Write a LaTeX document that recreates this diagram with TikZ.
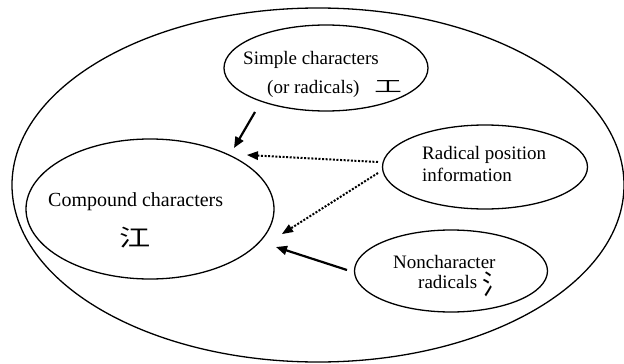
\documentclass[tikz,border=0pt]{standalone}
\usepackage{fontspec}
\usepackage{graphicx}
\setmainfont{Liberation Serif}
\newfontfamily\cjk{Noto Sans CJK SC}
\usetikzlibrary{shapes.geometric,arrows.meta}
\tikzset{
  ell/.style={draw=black, line width=1.3pt, ellipse, inner sep=0pt},
  lbl/.style={inner sep=0pt, anchor=base west, font=\fontsize{19}{22}\selectfont},
  cjkc/.style={inner sep=0pt, anchor=center},
  solidarrow/.style={line width=2.2pt, -{Triangle[length=11pt,width=9pt]}},
  dotarrow/.style={line width=2pt, dash pattern=on 2pt off 1.6pt, -{Triangle[length=11pt,width=9pt,line width=0pt]}}
}
\begin{document}
\begin{tikzpicture}[x=1pt,y=-1pt]
\useasboundingbox[fill=white] (0,0) rectangle (624,364);
% ellipses
\node[ell, minimum width=612pt, minimum height=354pt] (outer) at (318,185) {};
\node[ell, minimum width=204pt, minimum height=86pt] (simple) at (326,68) {};
\node[ell, minimum width=248pt, minimum height=140pt] (compound) at (150,209) {};
\node[ell, minimum width=205pt, minimum height=84pt] (radical) at (485,167) {};
\node[ell, minimum width=193pt, minimum height=82pt] (nonchar) at (451,271) {};
% texts
\node[lbl] (s1) at (243,64) {Simple characters};
\node[lbl] (s2) at (267,93) {(or radicals)};
\node[cjkc] (s3) at (388,87) {\scalebox{1.25}[0.75]{\fontsize{22}{22}\cjk 工}};
\node[lbl, font=\fontsize{20}{22}\selectfont] (c1) at (48,206) {Compound characters};
\node[cjkc] (c2) at (135,238) {\scalebox{1.2}[0.9]{\fontsize{26}{26}\cjk 江}};
\node[lbl] (r1) at (422,159) {Radical position};
\node[lbl] (r2) at (422,181) {information};
\node[lbl] (n1) at (393,268) {Noncharacter};
\node[lbl] (n2) at (418,288) {radicals};
\node[cjkc] (n3) at (494,284) {\scalebox{1}[1.15]{\fontsize{24}{24}\cjk 氵}};
% connector end points
\coordinate (a1s) at (255,112);
\coordinate (a1e) at (234,148);
\coordinate (a2s) at (378,162);
\coordinate (a2e) at (247,155);
\coordinate (a3s) at (378,173);
\coordinate (a3e) at (282,234);
\coordinate (a4s) at (347,270);
\coordinate (a4e) at (276,247);
% arrows
\draw[solidarrow] (a1s) -- (a1e);
\draw[dotarrow] (a2s) -- (a2e);
\draw[dotarrow] (a3s) -- (a3e);
\draw[solidarrow] (a4s) -- (a4e);
\end{tikzpicture}
\end{document}
